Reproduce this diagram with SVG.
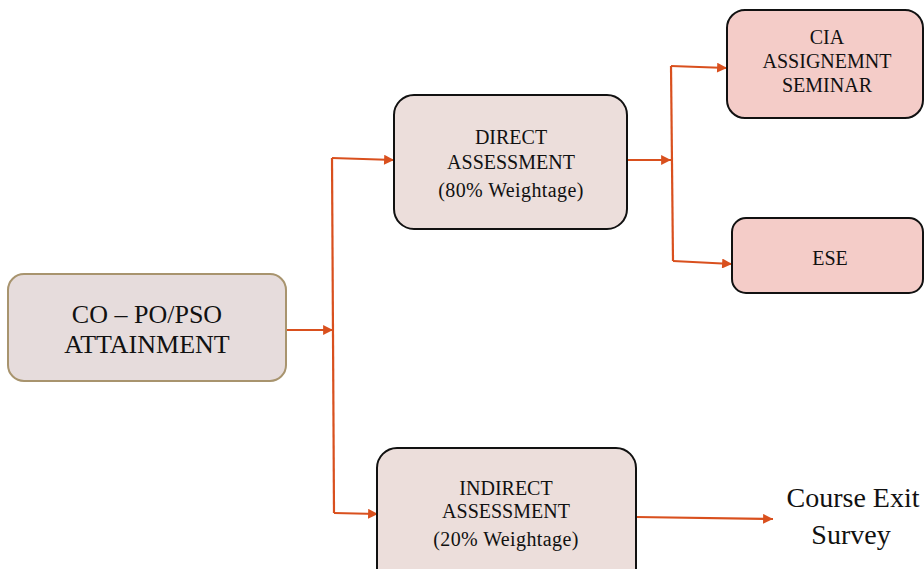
<svg xmlns="http://www.w3.org/2000/svg" width="924" height="569" viewBox="0 0 924 569">
<defs>
<marker id="ah" viewBox="0 0 10 10" refX="10" refY="5" markerWidth="5.5" markerHeight="4.5" orient="auto" markerUnits="strokeWidth">
<path d="M0,0 L10,5 L0,10 Z" fill="#d9501e"/>
</marker>
<style>
.t{font-family:"Liberation Serif","Times New Roman",serif;fill:#111;text-anchor:middle}
.c{fill:none;stroke:#d9501e;stroke-width:2.2}
.a{marker-end:url(#ah)}
.n2{fill:#ecdedb;stroke:#111;stroke-width:2}
.n3{fill:#f4ccc8;stroke:#111;stroke-width:2}
</style>
</defs>
<rect width="924" height="569" fill="#fff"/>
<g id="connectors">
<line class="c a" x1="286" y1="330" x2="333" y2="330"/>
<polyline class="c" points="334,513 332,158"/>
<polyline class="c a" points="332,158 394,160"/>
<polyline class="c a" points="334,513 378,514"/>
<line class="c a" x1="627" y1="160" x2="671" y2="160"/>
<polyline class="c" points="671,66 673,261"/>
<polyline class="c a" points="671,66 727,68"/>
<polyline class="c a" points="673,261 732,264"/>
<polyline class="c a" points="636,517 773,519"/>
</g>
<g id="n-co">
<rect x="8" y="274" width="278" height="107" rx="16" fill="#e6dcdc" stroke="#a8946e" stroke-width="2"/>
<text class="t" x="147" y="323" font-size="26">CO – PO/PSO</text>
<text class="t" x="147" y="353" font-size="26">ATTAINMENT</text>
</g>
<g id="n-direct">
<rect class="n2" x="394" y="95" width="233" height="134" rx="20"/>
<text class="t" x="511" y="144" font-size="20">DIRECT</text>
<text class="t" x="511" y="169" font-size="20">ASSESSMENT</text>
<text class="t" x="511" y="197" font-size="20" letter-spacing="0.4">(80% Weightage)</text>
</g>
<g id="n-indirect">
<rect class="n2" x="377" y="448" width="259" height="140" rx="20"/>
<text class="t" x="506" y="495" font-size="20">INDIRECT</text>
<text class="t" x="506" y="518" font-size="20">ASSESSMENT</text>
<text class="t" x="506" y="546" font-size="20" letter-spacing="0.4">(20% Weightage)</text>
</g>
<g id="n-cia">
<rect class="n3" x="727" y="10" width="196" height="108" rx="18"/>
<text class="t" x="827" y="44" font-size="20">CIA</text>
<text class="t" x="827" y="68" font-size="20">ASSIGNEMNT</text>
<text class="t" x="827" y="92" font-size="20">SEMINAR</text>
</g>
<g id="n-ese">
<rect class="n3" x="732" y="218" width="191" height="75" rx="14"/>
<text class="t" x="830" y="265" font-size="20">ESE</text>
</g>
<g id="n-survey">
<text class="t" x="853" y="507" font-size="28">Course Exit</text>
<text class="t" x="851" y="544" font-size="28">Survey</text>
</g>
</svg>
